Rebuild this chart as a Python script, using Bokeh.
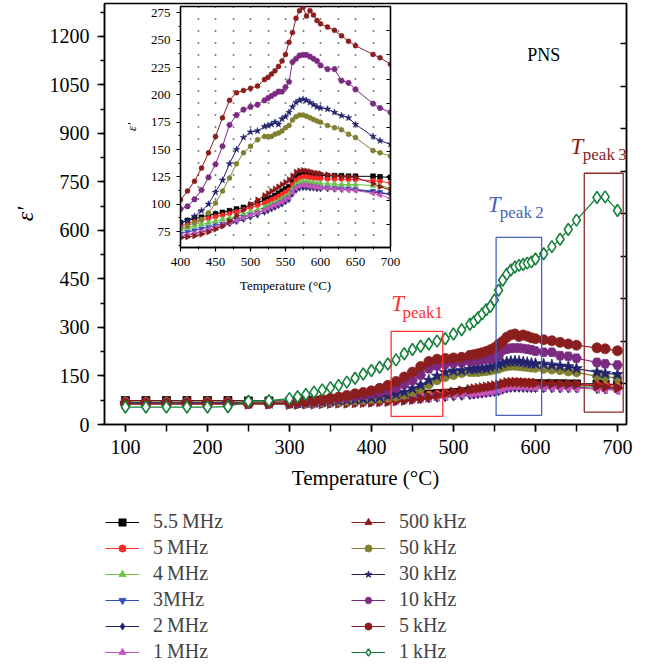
import numpy as np
from bokeh.plotting import figure
from bokeh.models import (ColumnDataSource, Range1d, LinearAxis, FixedTicker, Legend, LegendItem,
                          BoxAnnotation, Label, SingleIntervalTicker, CustomLabelingPolicy)
from bokeh.embed import file_html
from bokeh.resources import INLINE

# ---------------- data ----------------
T = [100, 125, 150, 175, 200, 225, 250, 275,
     300, 310, 320, 330, 340, 350, 360, 370, 380, 390,
     400, 410, 420, 430, 440, 450, 460, 470, 480, 490, 500, 510, 520, 525, 530, 535, 540, 545,
     550, 555, 560, 565, 570, 575, 580, 585, 590, 595, 600, 610, 620, 630, 640, 650, 675, 685, 700]

eps_5p5MHz = [74, 74, 74, 74, 74, 74, 73, 73,
              72, 73, 74, 75, 76, 77, 78, 79, 80, 81.5,
              83, 85, 87, 88, 90, 91, 92.5, 94, 95.5, 97, 99, 101, 104, 105, 106, 108, 110, 112,
              114, 116, 121, 125, 127, 128, 128, 127.5, 127, 127, 126.5, 126, 126, 126, 125.5, 125.5, 125.5, 125, 124.5]
eps_5MHz = [72, 72, 72, 72, 72, 72, 71, 71,
            70, 71, 72, 73, 74, 75, 76, 77, 78, 79,
            80, 82, 84, 85.5, 87, 88.5, 90, 91.5, 93, 95, 97, 99, 101, 102.5, 104, 105.5, 107, 109,
            111, 113, 118, 122, 124, 125, 125, 124.5, 124, 124, 123.5, 123, 123, 123, 122.5, 122.5, 121.5, 121, 119.5]
eps_4MHz = [70, 70, 70, 70, 70, 70, 69, 69,
            68, 69, 70, 70.5, 71, 72, 73, 74, 75, 76,
            77, 78.5, 80, 81.5, 83, 84.5, 86, 87.5, 89, 91, 93, 95, 97, 98.5, 100, 101.5, 103, 105,
            107, 109, 114, 118, 120, 120.5, 120.5, 120, 119.5, 119, 119, 118.5, 118.5, 118, 118, 118, 117, 116.5, 115]
eps_3MHz = [68, 68, 68, 68, 68, 68, 67, 67,
            66, 67, 67.5, 68, 68.5, 69, 70, 71, 71.5, 72,
            73, 74.5, 76, 77.5, 79, 80.5, 82, 84, 86, 88, 90, 92, 94.5, 96, 97.5, 99, 100.5, 102,
            104, 106, 111, 114.5, 116.5, 117, 117, 116.5, 116, 115.5, 115, 115, 114.5, 114, 114, 113.5, 112, 111, 109]
eps_2MHz = [66, 66, 66, 66, 66, 66, 65, 65,
            64, 64.5, 65, 65.5, 66, 66.5, 67, 67.5, 68, 69,
            70, 71.5, 73, 74.5, 76, 78, 80, 82, 84, 86, 88, 90, 92.5, 94, 95.5, 97, 98.5, 100,
            102, 104, 109, 112.5, 114.5, 115, 115, 114.5, 114.5, 114, 114, 114, 113.5, 113.5, 113.5, 113, 111, 110, 109]
eps_1MHz = [65, 65, 65, 65, 65, 65, 65, 65,
            65, 65.5, 66, 66.5, 67, 67.5, 68, 68.5, 69, 70,
            71, 72, 73.5, 75, 77, 79, 81, 83, 85, 87.5, 90, 92, 94.5, 96, 97.5, 99, 100.5, 102,
            104, 106, 111, 114.5, 116.5, 117.5, 117, 116.5, 116, 115.5, 115, 114.5, 114, 113.5, 113, 112.5, 110, 108.5, 105.5]
eps_500kHz = [64, 64, 64, 64, 64, 64, 63, 63,
              62, 62, 63, 63, 64, 65, 66, 66, 67, 68,
              69, 70, 71, 72.5, 74.5, 77, 80, 84.5, 89.5, 95, 100, 104, 108, 110, 112, 114, 116, 118,
              120, 122.5, 126, 129.5, 130.5, 131, 130.5, 130, 129, 128.5, 128, 127, 126, 125, 125, 124.5, 119, 116, 113]
eps_50kHz = [64, 64, 64, 64, 64, 64, 64, 64,
             64, 65, 66, 67, 68, 70, 71, 73, 75, 76,
             78, 80, 83, 86, 92, 101, 112, 124, 137, 147, 153, 159, 162, 162, 162, 164, 165, 167,
             170, 172, 177, 180, 181.5, 181.5, 180.5, 179, 177.5, 176, 175, 172, 170, 168, 164, 161, 149, 147, 144]
eps_30kHz = [65, 65, 65, 65, 65, 65, 65, 65,
             65, 66, 67, 68, 70, 72, 74, 76, 78, 80,
             83, 85, 89, 94, 100, 111, 122, 137, 150, 161, 166, 167, 171, 172, 173, 175, 173, 178,
             180, 184, 189, 193, 195, 196, 195, 193, 191, 189, 188, 187, 184, 181, 179, 173, 162, 158, 155]
eps_10kHz = [65, 65, 65, 65, 65, 65, 65, 65,
             66, 67, 69, 71, 73, 76, 79, 83, 87, 91,
             95.5, 98, 104.5, 113, 124.5, 136.5, 153, 172.5, 181.5, 186.5, 189, 191, 195, 197, 199, 201, 203, 203,
             207, 212, 230, 233, 236, 236.5, 236.5, 235, 233, 231, 227, 223.5, 223.5, 213, 211, 205, 192, 188, 184]
eps_5kHz = [64, 64, 64, 64, 64, 64, 65, 66,
            67, 69, 71, 74, 77, 81, 85, 90, 95, 99,
            104, 112, 121, 133, 147, 162, 179, 195, 202, 204, 206, 208, 214, 216, 219, 222, 226, 231,
            237, 248, 257, 270, 277, 280, 272, 277, 273, 268, 265, 262, 259, 254, 249, 245, 237, 234, 228]
eps_1kHz = [54, 54, 54, 54, 54, 55, 72, 74,
            80, 86, 93, 100, 107, 114, 121, 131, 143, 156,
            167, 177, 187, 200, 219, 232, 242, 249, 258, 265, 280, 293, 310, 318, 330, 342, 355, 365,
            385, 415, 446, 465, 478, 487, 492, 495, 499, 503, 512, 528, 550, 573, 603, 632, 702, 704, 662]

labels = ["5.5\u2009MHz", "5\u2009MHz", "4\u2009MHz", "3MHz", "2\u2009MHz", "1\u2009MHz",
          "500\u2009kHz", "50\u2009kHz", "30\u2009kHz", "10\u2009kHz", "5\u2009kHz", "1\u2009kHz"]
series = [eps_5p5MHz, eps_5MHz, eps_4MHz, eps_3MHz, eps_2MHz, eps_1MHz,
          eps_500kHz, eps_50kHz, eps_30kHz, eps_10kHz, eps_5kHz, eps_1kHz]

# styles: (color, marker, angle, fill, main size, inset size)
styles = [
    ("#000000", "square", 0.0, "#000000", 8, 5),
    ("#ff2626", "circle", 0.0, "#ff2626", 8, 5),
    ("#6cc24a", "triangle", 0.0, "#6cc24a", 9, 6),
    ("#2d4fb8", "inverted_triangle", 0.0, "#2d4fb8", 9, 6),
    ("#24246e", "diamond", 0.0, "#24246e", 10, 6),
    ("#c457b9", "triangle", np.pi / 2, "#c457b9", 9, 6),
    ("#8b1a1a", "triangle", -np.pi / 2, "#8b1a1a", 10, 6),
    ("#808030", "circle", 0.0, "#808030", 9, 5),
    ("#24246e", "star", 0.0, "#24246e", 12, 7),
    ("#7b2a82", "hex", 0.0, "#7b2a82", 10, 6),
    ("#8b1e1e", "circle", 0.0, "#8b1e1e", 10, 5),
    ("#17803c", "diamond", 0.0, "#ffffff", 12, 6),
]

SERIF = "Liberation Serif"
NO_LABELS = CustomLabelingPolicy(code="for (const i of Array.from(indices)) { indices.unset(i) }\nreturn indices")

# ---------------- main figure ----------------
p = figure(width=653, height=665, x_range=Range1d(74.5, 711), y_range=Range1d(0, 1302),
           output_backend="svg", toolbar_location=None,
           min_border_left=104, min_border_right=27, min_border_top=3, min_border_bottom=241,
           x_axis_label="Temperature (°C)", y_axis_label="ε′")
p.grid.visible = False
p.outline_line_color = "black"
p.outline_line_width = 1.5
p.xaxis.ticker = SingleIntervalTicker(interval=100, num_minor_ticks=2)
p.yaxis.ticker = SingleIntervalTicker(interval=150, num_minor_ticks=2)
for ax in (p.xaxis[0], p.yaxis[0]):
    ax.axis_line_width = 1.5
    ax.major_tick_line_width = 1.5
    ax.minor_tick_line_width = 1.5
    ax.major_tick_in = 0
    ax.minor_tick_in = 0
    ax.major_label_text_font = SERIF
    ax.major_label_text_font_size = "20px"
    ax.major_label_text_color = "black"
    ax.axis_label_text_font = SERIF
    ax.axis_label_text_font_size = "21px"
    ax.axis_label_text_color = "black"
    ax.major_label_standoff = 8
    ax.axis_label_standoff = 9
p.xaxis.major_tick_out = 7
p.xaxis.minor_tick_out = 7
p.yaxis.major_tick_out = 7
p.yaxis.minor_tick_out = 4
p.yaxis.axis_label_text_font_style = "italic"
p.yaxis.axis_label_text_font_size = "24px"
p.xaxis.axis_label_text_font_style = "normal"

p.extra_y_ranges = {"mirror": Range1d(-0.958, 8.948)}
rax = LinearAxis(y_range_name="mirror", ticker=FixedTicker(ticks=list(range(0, 9))),
                 major_tick_in=6, major_tick_out=0, minor_tick_in=0, minor_tick_out=0,
                 major_label_policy=NO_LABELS, major_label_text_font_size="10px",
                 axis_line_width=1.5, major_tick_line_width=1.5)
p.add_layout(rax, "right")

for lab, ys, (col, mk, ang, fill, ms, _) in zip(labels, series, styles):
    src = ColumnDataSource(dict(x=T, y=ys))
    p.line("x", "y", source=src, line_color=col, line_width=1.2)
    p.scatter("x", "y", source=src, marker=mk, angle=ang, size=ms,
              fill_color=fill, line_color=col, line_width=1.6 if fill == "#ffffff" else 0.8)

# annotation boxes and labels
p.add_layout(BoxAnnotation(left=424, right=487, bottom=25, top=288, fill_alpha=0,
                           line_color="#ff3030", line_width=1.3, line_alpha=1))
p.add_layout(BoxAnnotation(left=552, right=607.5, bottom=28, top=579, fill_alpha=0,
                           line_color="#4a62b8", line_width=1.3, line_alpha=1))
p.add_layout(BoxAnnotation(left=659.5, right=707, bottom=38, top=777, fill_alpha=0,
                           line_color="#8b2a2a", line_width=1.3, line_alpha=1))

for (tx, ty, sx, sy, sub, colr) in [(424, 335, 437.8, 316, "peak1", "#ff3030"),
                                     (541.8, 643, 556.5, 626, "peak\u20092", "#4a62b8"),
                                     (642.7, 822, 657.7, 806, "peak\u20093", "#8b1c1c")]:
    p.add_layout(Label(x=tx, y=ty, text="T", text_font=SERIF, text_font_style="italic",
                       text_font_size="23px", text_color=colr))
    p.add_layout(Label(x=sx, y=sy, text=sub, text_font=SERIF,
                       text_font_size="17px", text_color=colr))

p.add_layout(Label(x=590, y=1113, text="PNS", text_font=SERIF, text_font_size="18px",
                   text_color="black"))

# ---------------- inset figure ----------------
ins = figure(width=285, height=300, x_range=Range1d(400, 700), y_range=Range1d(60.4, 280.8),
             output_backend="svg", toolbar_location=None,
             min_border_left=58, min_border_right=15, min_border_top=6, min_border_bottom=53,
             x_axis_label="Temperature (°C)", y_axis_label="ε′",
             background_fill_alpha=0, border_fill_alpha=0,
             styles={"position": "absolute", "left": "120px", "top": "0px"})
ins.outline_line_color = "black"
ins.outline_line_width = 1.3
ins.ygrid.visible = False
ins.xgrid.ticker = SingleIntervalTicker(interval=25)
ins.xgrid.grid_line_color = "black"
ins.xgrid.grid_line_width = 1.6
ins.xgrid.grid_line_dash = "1 11"
ins.xaxis.ticker = SingleIntervalTicker(interval=50, num_minor_ticks=2)
ins.yaxis.ticker = SingleIntervalTicker(interval=25, num_minor_ticks=2)
for ax in (ins.xaxis[0], ins.yaxis[0]):
    ax.axis_line_width = 1.3
    ax.major_tick_line_width = 1.2
    ax.minor_tick_line_width = 1.0
    ax.major_tick_in = 0
    ax.minor_tick_in = 0
    ax.major_tick_out = 4
    ax.minor_tick_out = 2
    ax.major_label_text_font = SERIF
    ax.major_label_text_font_size = "13px"
    ax.major_label_text_color = "black"
    ax.axis_label_text_font = SERIF
    ax.axis_label_text_font_size = "13px"
    ax.axis_label_text_color = "black"
    ax.major_label_standoff = 6
    ax.axis_label_standoff = 9
ins.yaxis.axis_label_text_font_style = "italic"
ins.xaxis.axis_label_text_font_style = "normal"

ins.extra_y_ranges = {"mirror": Range1d(-0.94, 9.0)}
irax = LinearAxis(y_range_name="mirror", ticker=FixedTicker(ticks=list(range(0, 10))),
                  major_tick_in=4, major_tick_out=0, minor_tick_in=0, minor_tick_out=0,
                  major_label_policy=NO_LABELS, major_label_text_font_size="10px",
                  axis_line_width=1.3)
ins.add_layout(irax, "right")

for lab, ys, (col, mk, ang, fill, _, ims) in zip(labels[:-1], series[:-1], styles[:-1]):
    src = ColumnDataSource(dict(x=T, y=ys))
    ins.line("x", "y", source=src, line_color=col, line_width=1.0)
    ins.scatter("x", "y", source=src, marker=mk, angle=ang, size=ims,
                fill_color=fill, line_color=col, line_width=0.5)

# ---------------- legend panel (below the chart) ----------------
leg = figure(width=545, height=154, x_range=Range1d(0, 1), y_range=Range1d(0, 1),
             output_backend="svg", toolbar_location=None, min_border=0,
             x_axis_type=None, y_axis_type=None, outline_line_color=None,
             background_fill_alpha=0, border_fill_alpha=0,
             styles={"position": "absolute", "left": "105px", "top": "510px"})
leg.grid.visible = False
items = []
for lab, ys, (col, mk, ang, fill, ms, _) in zip(labels, series, styles):
    src = ColumnDataSource(dict(x=T, y=ys))
    ln = leg.line("x", "y", source=src, line_color=col, line_width=1.2)
    sc = leg.scatter("x", "y", source=src, marker=mk, angle=ang, size=min(ms, 9),
                     fill_color=fill, line_color=col, line_width=1.4 if fill == "#ffffff" else 0.8)
    items.append(LegendItem(label=lab, renderers=[ln, sc]))

legend = Legend(items=items, orientation="vertical", nrows=6, location="top_left", margin=0, padding=0,
                glyph_width=34, glyph_height=18, label_height=18, label_width=195, label_standoff=14,
                spacing=3, label_text_font=SERIF, label_text_font_size="20px",
                border_line_color=None, background_fill_alpha=0)
leg.add_layout(legend, "center")

open("out.html", "w").write(file_html([p, ins, leg], INLINE))
